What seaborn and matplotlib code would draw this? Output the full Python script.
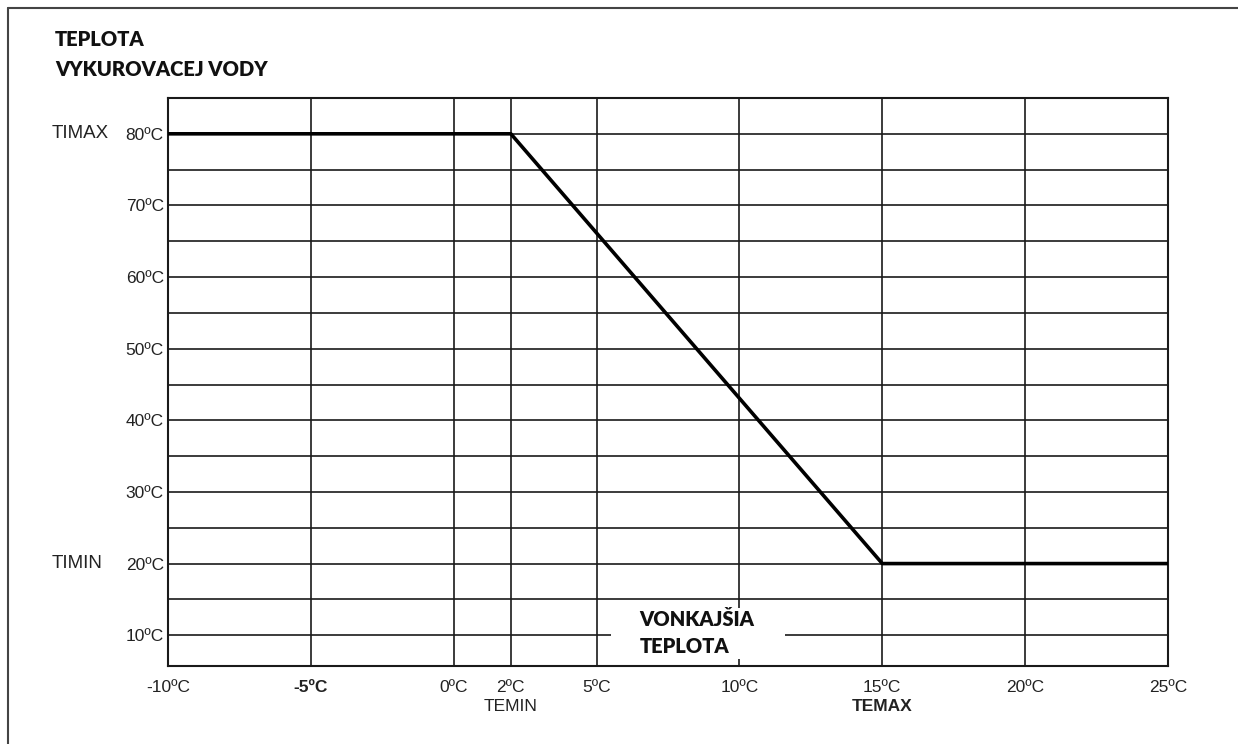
import numpy as np
import pandas as pd
import matplotlib
matplotlib.use("Agg")
import matplotlib.pyplot as plt
import matplotlib.transforms as mtransforms
from matplotlib.lines import Line2D
from matplotlib.patches import Rectangle
import seaborn as sns

# curve of heating water temperature vs outside temperature
outside_temp = [-10, 2, 15, 25]
water_temp = [80, 80, 20, 20]

x_ticks = [-10, -5, 0, 2, 5, 10, 15, 20, 25]
x_labels = ["-10ºC", "-5ºC", "0ºC", "2ºC", "5ºC", "10ºC", "15ºC", "20ºC", "25ºC"]
y_ticks = [10, 20, 30, 40, 50, 60, 70, 80]
y_labels = ["10ºC", "20ºC", "30ºC", "40ºC", "50ºC", "60ºC", "70ºC", "80ºC"]
y_minor = [15, 25, 35, 45, 55, 65, 75]

sns.set_theme(style="white")
plt.rcParams['font.family'] = ['Liberation Sans', 'DejaVu Sans']

W, H = 1238, 744
fig = plt.figure(figsize=(W / 100, H / 100), dpi=100)
ax = fig.add_axes([168 / W, 1 - 666 / H, 1000 / W, 568 / H])

df = pd.DataFrame({"outside": outside_temp, "water": water_temp})
sns.lineplot(data=df, x="outside", y="water", ax=ax, color="black",
             linewidth=2.6, zorder=5, sort=False)

ax.set_xlim(-10, 25)
ax.set_ylim(5.7, 85)
ax.set_xticks(x_ticks)
ax.set_xticklabels(x_labels)
ax.set_yticks(y_ticks)
ax.set_yticklabels(y_labels)
ax.set_yticks(y_minor, minor=True)
ax.set_axisbelow(True)
ax.grid(True, which="both", color="#1a1a1a", linewidth=1.2)
ax.tick_params(axis="both", which="both", length=0, labelsize=12.5, colors="#222222")
ax.tick_params(axis="x", pad=10)
ax.tick_params(axis="y", pad=3)
ax.set_xlabel("")
ax.set_ylabel("")
for sp in ax.spines.values():
    sp.set_visible(True)
    sp.set_color("#1a1a1a")
    sp.set_linewidth(1.5)

for lbl in ax.get_xticklabels():
    if lbl.get_text() == "-5ºC":
        lbl.set_fontweight("bold")

# white box for axis label
ax.add_patch(Rectangle((5.5, 6.7), 6.1, 7.1, facecolor="white", edgecolor="none", zorder=3))
title_font = dict(family=["Lato", "DejaVu Sans"], fontweight="heavy", fontsize=14.5, color="#111111")
ax.text(6.5, 12.2, "VONKAJŠIA", ha="left", va="center", zorder=4, **title_font)
ax.text(6.5, 8.4, "TEPLOTA", ha="left", va="center", zorder=4, **title_font)

# labels under the axis
trans = mtransforms.blended_transform_factory(ax.transData, ax.transAxes)
ax.text(2, -0.072, "TEMIN", ha="center", va="center", transform=trans,
        fontsize=12.5, color="#222222")
ax.text(15, -0.072, "TEMAX", ha="center", va="center", transform=trans,
        fontsize=12.5, fontweight="bold", color="#222222")

# labels left of the axis
fig.text(52 / W, 1 - 133 / H, "TIMAX", ha="left", va="center", fontsize=13.5, color="#222222")
fig.text(52 / W, 1 - 563 / H, "TIMIN", ha="left", va="center", fontsize=13.5, color="#222222")

fig.text(55 / W, 1 - 40 / H, "TEPLOTA", ha="left", va="center", **title_font)
fig.text(55 / W, 1 - 70 / H, "VYKUROVACEJ VODY", ha="left", va="center", **title_font)

# page frame
fig.add_artist(Line2D([8 / W, 1], [1 - 8 / H, 1 - 8 / H], color="#444444", linewidth=1.5))
fig.add_artist(Line2D([8 / W, 8 / W], [0, 1 - 8 / H], color="#444444", linewidth=1.5))

fig.savefig("out.png", dpi=100)
